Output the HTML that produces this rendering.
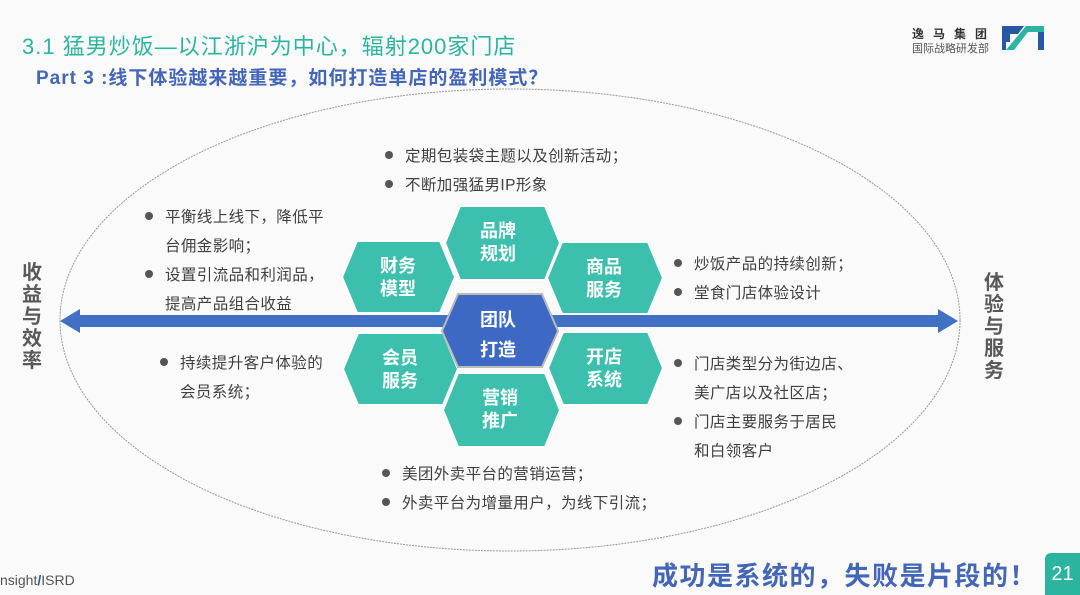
<!DOCTYPE html>
<html><head><meta charset="utf-8">
<style>
body{margin:0;width:1080px;height:595px;background:#fafafa;overflow:hidden;position:relative;font-family:"Liberation Sans","Noto Sans CJK SC",sans-serif;}
.a{position:absolute;white-space:nowrap;}
.t{font-size:15.5px;color:#404040;line-height:29px;letter-spacing:0.4px}
.t span{display:inline-block;width:8px;height:8px;border-radius:50%;background:#555;margin-right:12px;vertical-align:middle;position:relative;top:-2px}
.v{font-size:20px;font-weight:bold;color:#595959;line-height:22px;width:22px;white-space:normal;text-align:center}
</style></head><body>
<div class="a" style="left:22px;top:29px;font-size:22px;letter-spacing:1px;color:#2bb5a0">3.1 猛男炒饭—以江浙沪为中心，辐射200家门店</div>
<div class="a" style="left:36px;top:63px;font-size:19px;letter-spacing:1px;font-weight:bold;color:#4466b8">Part 3 :线下体验越来越重要，如何打造单店的盈利模式？</div>
<div class="a" style="left:912px;top:25px;font-size:12px;font-weight:bold;color:#333;letter-spacing:9px">逸马集团</div>
<div class="a" style="left:912px;top:40px;font-size:11px;color:#555">国际战略研发部</div>
<svg class="a" style="left:1000px;top:24px" width="48" height="28" viewBox="0 0 48 28">
<path d="M2 2H24L18 10H10V18H6V26H2Z" fill="#2757a5"/><path d="M6 26L26 2H44V26H38V8H28L14 26Z" fill="#2bb5a0"/><path d="M38 8H44V26H38Z" fill="#2757a5"/>
</svg>
<svg class="a" style="left:0;top:0" width="1080" height="595">
<ellipse cx="510" cy="320" rx="450" ry="231" fill="none" stroke="#999" stroke-width="1" stroke-dasharray="2,1"/>
<rect x="72" y="315" width="874" height="12" fill="#4170c4"/>
<polygon points="60,321 80,309 80,333" fill="#4170c4"/>
<polygon points="958,321 938,309 938,333" fill="#4170c4"/>
<g fill="#3dbfae" stroke="#fff" stroke-width="2">
<polygon points="445,243 460,206 545,206 560,243 545,280 460,280"/>
<polygon points="342,277 357,241 440,241 455,277 440,313 357,313"/>
<polygon points="547,278 562,242 648,242 663,278 648,314 562,314"/>
<polygon points="343,369 358,333 443,333 458,369 443,405 358,405"/>
<polygon points="548,368 563,332 648,332 663,368 648,405 563,405"/>
<polygon points="443,410 458,373 545,373 560,410 545,447 458,447"/>
</g>
<polygon points="442,331 458,294 542,294 558,331 542,367 458,367" fill="#3d68c4" stroke="#bbb" stroke-width="2"/>
</svg>
<div class="a" style="left:0;top:0;width:0;height:0;color:#fff;font-weight:bold;font-size:18px;line-height:23px;text-align:center">
<div class="a" style="left:462px;top:220px;width:72px">品牌<br>规划</div>
<div class="a" style="left:362px;top:255px;width:72px">财务<br>模型</div>
<div class="a" style="left:568px;top:256px;width:72px">商品<br>服务</div>
<div class="a" style="left:462px;top:305px;width:72px;line-height:30px">团队<br>打造</div>
<div class="a" style="left:364px;top:347px;width:72px">会员<br>服务</div>
<div class="a" style="left:568px;top:346px;width:72px">开店<br>系统</div>
<div class="a" style="left:464px;top:387px;width:72px">营销<br>推广</div>
</div>
<div class="a t" style="left:385px;top:142px"><span></span>定期包装袋主题以及创新活动；<br><span></span>不断加强猛男IP形象</div>
<div class="a t" style="left:145px;top:203px"><span></span>平衡线上线下，降低平<br><span style="visibility:hidden"></span>台佣金影响；<br><span></span>设置引流品和利润品，<br><span style="visibility:hidden"></span>提高产品组合收益</div>
<div class="a t" style="left:674px;top:250px"><span></span>炒饭产品的持续创新；<br><span></span>堂食门店体验设计</div>
<div class="a t" style="left:160px;top:349px"><span></span>持续提升客户体验的<br><span style="visibility:hidden"></span>会员系统；</div>
<div class="a t" style="left:674px;top:350px"><span></span>门店类型分为街边店、<br><span style="visibility:hidden"></span>美广店以及社区店；<br><span></span>门店主要服务于居民<br><span style="visibility:hidden"></span>和白领客户</div>
<div class="a t" style="left:382px;top:460px"><span></span>美团外卖平台的营销运营；<br><span></span>外卖平台为增量用户，为线下引流；</div>
<div class="a v" style="left:21px;top:262px">收益与效率</div>
<div class="a v" style="left:983px;top:272px">体验与服务</div>
<div class="a" style="left:0;top:572px;font-size:14px;color:#555">nsight<b style="color:#2757a5">/</b>ISRD</div>
<div class="a" style="left:652px;top:556px;font-size:26px;letter-spacing:1.5px;font-weight:bold;color:#4466b8">成功是系统的，失败是片段的！</div>
<div class="a" style="left:1045px;top:553px;width:35px;height:42px;background:#2bb5a0;border-radius:6px 0 0 0;color:#fff;font-size:20px;text-align:center;line-height:42px">21</div>
</body></html>
